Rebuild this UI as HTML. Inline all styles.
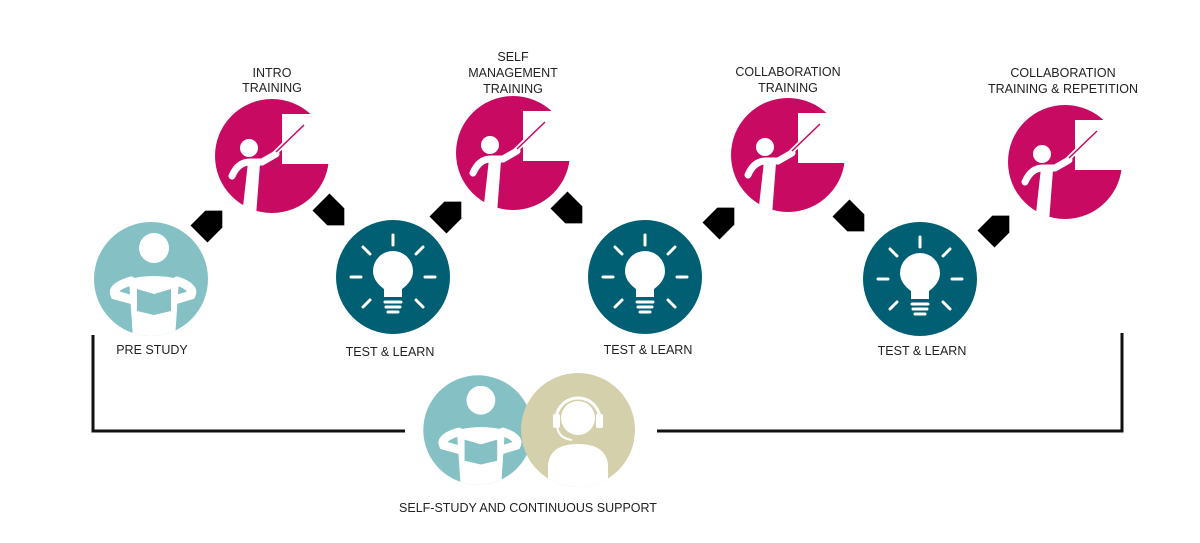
<!DOCTYPE html>
<html><head><meta charset="utf-8"><style>
html,body{margin:0;padding:0;background:#fff;}
svg{display:block;}
text{font-family:"Liberation Sans",sans-serif;font-size:12.5px;fill:#222;text-anchor:middle;}
</style></head><body>
<svg width="1200" height="543" viewBox="0 0 1200 543" xmlns="http://www.w3.org/2000/svg">
<defs>
  <clipPath id="cc"><circle r="57"/></clipPath>
  <g id="teacher">
    <circle r="57" fill="#c80a63"/>
    <rect x="10" y="-42" width="50" height="50" fill="#fff"/>
    <circle cx="-23" cy="-8" r="9" fill="#fff"/>
    <path d="M-40,20 Q-34,6 -22,6 L-10,6 L4,-2" stroke="#fff" stroke-width="7" fill="none" stroke-linecap="round"/>
    <path d="M-24,6 L-30,60 L-16,60 L-12,8 Z" fill="#fff"/>
    <line x1="2" y1="-2" x2="33" y2="-32" stroke="#fff" stroke-width="5" stroke-linecap="round"/>
    <line x1="4" y1="-4" x2="32" y2="-31" stroke="#c80a63" stroke-width="1.5"/>
  </g>
  <g id="bulb">
    <circle r="57" fill="#005f73"/>
    <g stroke="#fff" stroke-width="3" stroke-linecap="round">
      <line x1="0" y1="-42" x2="0" y2="-32"/>
      <line x1="-42" y1="0" x2="-32" y2="0"/>
      <line x1="42" y1="0" x2="32" y2="0"/>
      <line x1="-30" y1="-30" x2="-23" y2="-23"/>
      <line x1="30" y1="-30" x2="23" y2="-23"/>
      <line x1="-30" y1="30" x2="-23" y2="23"/>
      <line x1="30" y1="30" x2="23" y2="23"/>
      <line x1="-8" y1="25" x2="8" y2="25"/>
      <line x1="-7" y1="30" x2="7" y2="30"/>
      <line x1="-5" y1="35" x2="5" y2="35"/>
    </g>
    <path d="M-9,20 L-9,12 Q-20,4 -20,-6 A20,20 0 1 1 20,-6 Q20,4 9,12 L9,20 Z" fill="#fff"/>
  </g>
  <g id="reader">
    <circle r="57" fill="#85c1c4"/>
    <g clip-path="url(#cc)">
      <circle cx="3" cy="-31" r="15" fill="#fff"/>
      <path d="M-22,0 Q3,-6 28,0 L24,60 L-18,60 Z" fill="#fff"/>
      <path d="M-20,2 Q-40,8 -36,16 L-14,22 M26,2 Q44,8 40,16 L20,22" stroke="#fff" stroke-width="9" fill="none" stroke-linecap="round"/>
      <polygon points="-14,10 3,15 20,10 20,32 3,36 -14,32" fill="#85c1c4"/>
    </g>
  </g>
  <polygon id="arr" points="-17,-12 4,-12 16,0 4,12 -17,12"/>
</defs>

<path d="M93,335 L93,431 L405,431" stroke="#111" stroke-width="3" fill="none"/>
<path d="M657,431 L1122,431 L1122,333" stroke="#111" stroke-width="3" fill="none"/>

<use href="#reader" x="151" y="279"/>
<use href="#teacher" x="272" y="156"/>
<use href="#teacher" x="513" y="153"/>
<use href="#teacher" x="788" y="155"/>
<use href="#teacher" x="1065" y="162"/>
<use href="#bulb" x="393" y="277"/>
<use href="#bulb" x="645" y="277"/>
<use href="#bulb" x="920" y="279"/>

<g fill="#000">
  <use href="#arr" transform="translate(211,222) rotate(-45)"/>
  <use href="#arr" transform="translate(450,213) rotate(-45)"/>
  <use href="#arr" transform="translate(723,219) rotate(-45)"/>
  <use href="#arr" transform="translate(998,227) rotate(-45)"/>
  <use href="#arr" transform="translate(333,214) rotate(45)"/>
  <use href="#arr" transform="translate(571,212) rotate(45)"/>
  <use href="#arr" transform="translate(853,220) rotate(45)"/>
</g>

<use href="#reader" transform="translate(478,430) scale(0.96)"/>
<g transform="translate(578,430)">
  <circle r="57" fill="#d3d0ab"/>
  <circle cx="0" cy="-12" r="17" fill="#fff"/>
  <path d="M-22,-10 A22,22 0 0 1 22,-10" stroke="#fff" stroke-width="3" fill="none"/>
  <rect x="-25" y="-16" width="7" height="14" rx="2" fill="#fff"/>
  <rect x="18" y="-16" width="7" height="14" rx="2" fill="#fff"/>
  <path d="M-21,-4 Q-20,8 -6,10" stroke="#fff" stroke-width="2" fill="none"/>
  <path d="M-30,57 L-30,35 Q-28,14 0,14 Q28,14 30,35 L30,57 Z" fill="#fff" clip-path="url(#cc)"/>
</g>

<text x="272" y="77">INTRO</text>
<text x="272" y="92">TRAINING</text>
<text x="513" y="61">SELF</text>
<text x="513" y="77">MANAGEMENT</text>
<text x="513" y="93">TRAINING</text>
<text x="788" y="76">COLLABORATION</text>
<text x="788" y="92">TRAINING</text>
<text x="1063" y="77">COLLABORATION</text>
<text x="1063" y="93">TRAINING &amp; REPETITION</text>
<text x="152" y="354">PRE STUDY</text>
<text x="390" y="356">TEST &amp; LEARN</text>
<text x="648" y="354">TEST &amp; LEARN</text>
<text x="922" y="355">TEST &amp; LEARN</text>
<text x="528" y="512">SELF-STUDY AND CONTINUOUS SUPPORT</text>
</svg>
</body></html>
